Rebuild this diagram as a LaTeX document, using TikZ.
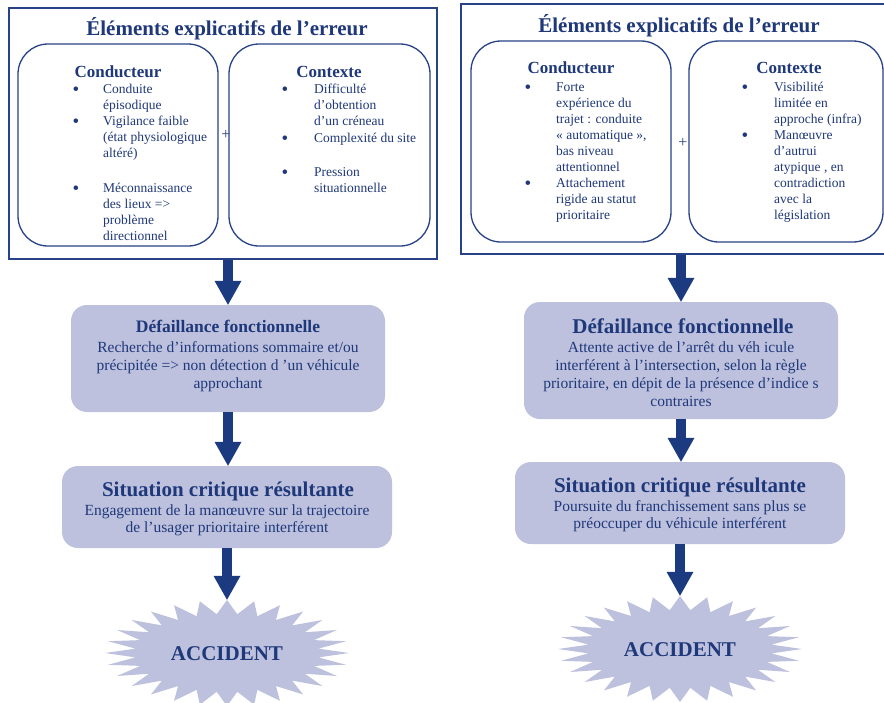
\documentclass[tikz,border=0pt]{standalone}
\usepackage{fontspec}
\setmainfont{Liberation Serif}
\usetikzlibrary{arrows.meta,shapes.geometric,calc}
\definecolor{navy}{RGB}{31,56,122}
\definecolor{arrowc}{RGB}{28,58,128}
\definecolor{boxline}{RGB}{40,66,135}
\definecolor{lav}{RGB}{189,193,221}
\newcommand\fs[2]{\fontsize{#1}{#2}\selectfont}
\newcommand\tl[1]{\begin{tabular}[t]{@{}l@{}}#1\end{tabular}}
\newcommand\tcn[1]{\begin{tabular}[t]{@{}c@{}}#1\end{tabular}}
\begin{document}
\begin{tikzpicture}[x=1pt,y=-1pt,
  outerbox/.style={draw=boxline, line width=1.3pt, inner sep=0pt},
  innerbox/.style={draw=boxline, line width=1.3pt, rounded corners=30pt, inner sep=0pt},
  fillbox/.style={fill=lav, rounded corners=16pt, inner sep=0pt},
  burst/.style={ellipse, inner sep=0pt, minimum width=244pt, minimum height=106pt},
  titletxt/.style={anchor=base, inner sep=0pt, text=navy, font=\bfseries\fs{21}{24}},
  hd/.style={anchor=base, inner sep=0pt, text=navy, font=\bfseries\fs{17}{20}},
  item/.style={anchor=base west, inner sep=0pt, text=navy, font=\fs{13.5}{16}},
  bul/.style={anchor=base, inner sep=0pt, text=navy, font=\fs{19}{20}},
  plus/.style={inner sep=0pt, text=boxline, font=\fs{16}{18}},
  bhd/.style={anchor=base, inner sep=0pt, text=navy, font=\bfseries\fs{21}{24}},
  bhdsmall/.style={anchor=base, inner sep=0pt, text=navy, font=\bfseries\fs{17.5}{20}},
  body/.style={anchor=base, inner sep=0pt, text=navy, font=\fs{15.5}{18}},
  bodyb/.style={anchor=base, inner sep=0pt, text=navy, font=\fs{15.5}{17}},
  acc/.style={inner sep=0pt, text=navy, font=\bfseries\fs{21}{24}},
  arr/.style={draw=arrowc, line width=10pt, -{Triangle[width=27pt,length=24pt,line width=0pt]}}
]
\clip (0,0) rectangle (884,702);
\fill[white] (0,0) rectangle (884,702);

% ---------------- LEFT COLUMN ----------------
\node[outerbox, minimum width=428pt, minimum height=251pt] (L0) at (223,133.5) {};
\node[titletxt] (Lt) at (227,35) {Éléments explicatifs de l’erreur};
\node[innerbox, minimum width=200pt, minimum height=202pt] (LA) at (118,145) {};
\node[innerbox, minimum width=201pt, minimum height=202pt] (LB) at (329.5,145) {};
\node[plus] (Lp) at (226,135) {+};

\node[hd] (LAh) at (118,77.5) {Conducteur};
\node[bul] (LAb1) at (76,95) {•};
\node[item] (LAi1) at (103,93) {\tl{Conduite\\épisodique}};
\node[bul] (LAb2) at (76,127) {•};
\node[item] (LAi2) at (103,125) {\tl{Vigilance faible\\(état physiologique\\altéré)}};
\node[bul] (LAb3) at (76,194) {•};
\node[item] (LAi3) at (103,192) {\tl{Méconnaissance\\des lieux =>\\problème\\directionnel}};

\node[hd] (LBh) at (329,77.5) {Contexte};
\node[bul] (LBb1) at (285,95) {•};
\node[item] (LBi1) at (314,93) {\tl{Difficulté\\d’obtention\\d’un créneau}};
\node[bul] (LBb2) at (285,144) {•};
\node[item] (LBi2) at (314,142) {Complexité du site};
\node[bul] (LBb3) at (285,178) {•};
\node[item] (LBi3) at (314,176) {\tl{Pression\\situationnelle}};

\node[fillbox, minimum width=314pt, minimum height=107pt] (L1) at (228,358.5) {};
\node[bhdsmall] (L1h) at (228,332.5) {Défaillance fonctionnelle};
\node[body] (L1t) at (228,352) {\tcn{Recherche d’informations sommaire et/ou\\précipitée => non détection d ’un véhicule\\approchant}};

\node[fillbox, minimum width=330pt, minimum height=82pt] (L2) at (227,507) {};
\node[bhd] (L2h) at (228,496) {Situation critique résultante};
\node[bodyb] (L2t) at (227,515.5) {\tcn{Engagement de la manœuvre sur la trajectoire\\de l’usager prioritaire interférent}};

\node[burst] (L3) at (227,653) {};
\fill[lav] plot[domain=0:360, samples=57] ({227+(122-30*mod(round(\x/6.4285714),2))*cos(\x)}, {653+(53-14*mod(round(\x/6.4285714),2))*sin(\x)}) -- cycle;
\node[acc] (L3t) at (227,654) {ACCIDENT};

\draw[arr] (L1.north |- L0.south) -- (L1.north);
\draw[arr] (L1.south) -- (L1.south |- L2.north);
\draw[arr] (L2.south) -- (L2.south |- L3.north);

% ---------------- RIGHT COLUMN ----------------
\node[outerbox, minimum width=440pt, minimum height=250pt] (R0) at (681,129) {};
\node[titletxt] (Rt) at (679,32) {Éléments explicatifs de l’erreur};
\node[innerbox, minimum width=200pt, minimum height=201pt] (RA) at (571,141.5) {};
\node[innerbox, minimum width=194pt, minimum height=201pt] (RB) at (786,141.5) {};
\node[plus] (Rp) at (683,143) {+};

\node[hd] (RAh) at (571,73.5) {Conducteur};
\node[bul] (RAb1) at (528,93) {•};
\node[item] (RAi1) at (556,91) {\tl{Forte\\expérience du\\trajet : conduite\\« automatique »,\\bas niveau\\attentionnel}};
\node[bul] (RAb2) at (528,189) {•};
\node[item] (RAi2) at (556,187) {\tl{Attachement\\rigide au statut\\prioritaire}};

\node[hd] (RBh) at (789,73.5) {Contexte};
\node[bul] (RBb1) at (745,93) {•};
\node[item] (RBi1) at (774,91) {\tl{Visibilité\\limitée en\\approche (infra)}};
\node[bul] (RBb2) at (745,141) {•};
\node[item] (RBi2) at (774,139) {\tl{Manœuvre\\d’autrui\\atypique , en\\contradiction\\avec la\\législation}};

\node[fillbox, minimum width=314pt, minimum height=117pt] (R1) at (681,360.5) {};
\node[bhd] (R1h) at (683,333) {Défaillance fonctionnelle};
\node[body] (R1t) at (681,352) {\tcn{Attente active de l’arrêt du véh icule\\interférent à l’intersection, selon la règle\\prioritaire, en dépit de la présence d’indice s\\contraires}};

\node[fillbox, minimum width=330pt, minimum height=82pt] (R2) at (680,503) {};
\node[bhd] (R2h) at (680,492) {Situation critique résultante};
\node[bodyb] (R2t) at (680,511.5) {\tcn{Poursuite du franchissement sans plus se\\préoccuper du véhicule interférent}};

\node[burst] (R3) at (680,649) {};
\fill[lav] plot[domain=0:360, samples=57] ({680+(122-30*mod(round(\x/6.4285714),2))*cos(\x)}, {649+(53-14*mod(round(\x/6.4285714),2))*sin(\x)}) -- cycle;
\node[acc] (R3t) at (680,650) {ACCIDENT};

\draw[arr] (R1.north |- R0.south) -- (R1.north);
\draw[arr] (R1.south) -- (R1.south |- R2.north);
\draw[arr] (R2.south) -- (R2.south |- R3.north);
\end{tikzpicture}
\end{document}
